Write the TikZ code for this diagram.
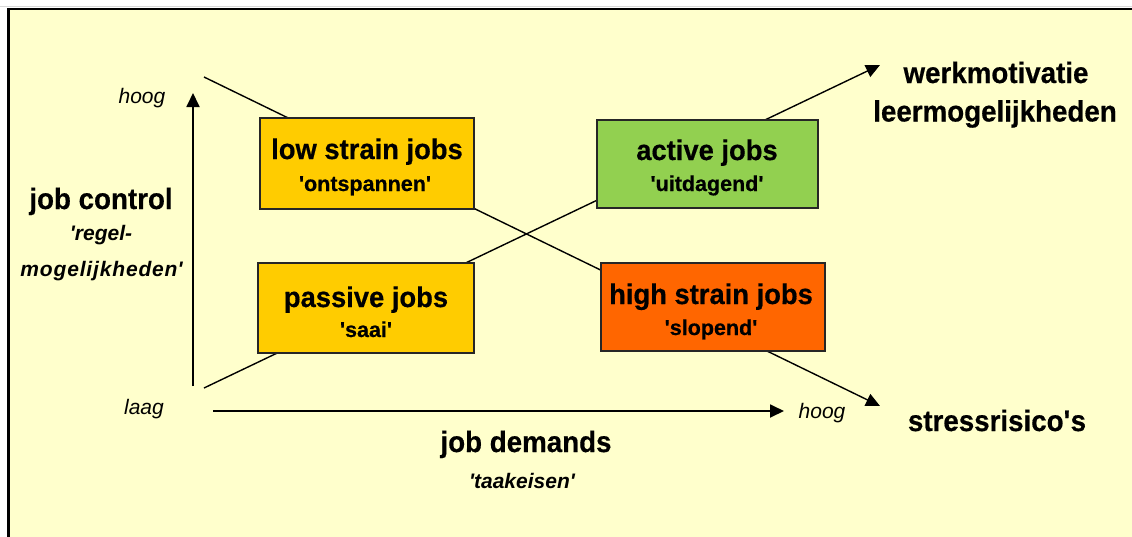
\documentclass[tikz,border=0pt]{standalone}
\usepackage{fontspec}
\setmainfont{Liberation Sans}[BoldFeatures={FakeBold=0.5}]
\newfontfamily\tallsans{Liberation Sans}[FakeStretch=0.94, BoldFeatures={FakeBold=0.5}]
\newfontfamily\boxsans{Liberation Sans}[FakeStretch=0.96, BoldFeatures={FakeBold=0.5}]
\usetikzlibrary{arrows.meta}

\definecolor{paper}{HTML}{FFFFCC}
\definecolor{calmfill}{HTML}{FFCC00}
\definecolor{activefill}{HTML}{92D050}
\definecolor{strainfill}{HTML}{FF6600}

\newcommand\sq{\textquotesingle}

\tikzset{
  jobbox/.style={draw=black!85, line width=1.4pt, inner sep=0pt, minimum width=#1},
  jobbox/.default=214pt,
  title/.style={anchor=base, inner sep=0pt, font=\boxsans\fontsize{28.5}{33}\selectfont\bfseries},
  subtitle/.style={anchor=base, inner sep=0pt, font=\fontsize{21.5}{25}\selectfont\bfseries},
  biglabel/.style={anchor=base, inner sep=0pt, font=\tallsans\fontsize{29.5}{34}\selectfont\bfseries},
  gloss/.style={anchor=base, inner sep=0pt, font=\fontsize{21}{25}\selectfont\bfseries\itshape},
  widegloss/.style={anchor=base, inner sep=0pt, font=\fontsize{21}{25}\selectfont\bfseries\itshape\addfontfeatures{LetterSpace=4}},
  level/.style={anchor=base, inner sep=0pt, font=\fontsize{21}{25}\selectfont\itshape},
  diagonal/.style={draw=black, line width=1.4pt},
  axisline/.style={draw=black, line width=1.8pt},
  tip/.style={-{Triangle[length=14pt,width=13pt]}}
}

\begin{document}
\begin{tikzpicture}[x=1pt,y=-1pt]
\useasboundingbox (0,0) rectangle (1132,536);
\fill[white] (0,0) rectangle (1132,536);
\draw[black!15, line width=1pt] (0,6.5) -- (1132,6.5);
\draw[fill=paper, line width=2.6pt] (8.5,9) rectangle (1160,570);

% end points of the two diagonals and the axes
\coordinate (ctlHigh) at (204,77);
\coordinate (riskTip) at (880,406);
\coordinate (ctlLow) at (204,388);
\coordinate (motTip) at (880,65);
\coordinate (yFoot) at (193,386);
\coordinate (yTip) at (193,93);
\coordinate (xFoot) at (213,411);
\coordinate (xTip) at (784,411);

% diagonals run behind the four quadrant boxes
\draw[diagonal, tip] (ctlHigh) -- (riskTip);
\draw[diagonal, tip] (ctlLow) -- (motTip);

% axes
\draw[axisline, tip] (yFoot) -- (yTip);
\draw[axisline, tip] (xFoot) -- (xTip);

% quadrant boxes
\node[jobbox=214pt, minimum height=91pt, fill=calmfill] (lowstrain) at (367,163.5) {};
\node[jobbox=216pt, minimum height=90pt, fill=calmfill] (passive) at (366,308) {};
\node[jobbox=221pt, minimum height=88pt, fill=activefill] (active) at (707.5,164) {};
\node[jobbox=224pt, minimum height=88pt, fill=strainfill] (highstrain) at (713,307) {};

\node[title] (lowT) at (367,159) {low strain jobs};
\node[subtitle] (lowS) at (365,191) {\sq ontspannen\sq};
\node[title] (pasT) at (366,307) {passive jobs};
\node[subtitle] (pasS) at (366,337) {\sq saai\sq};
\node[title] (actT) at (707,160) {active jobs};
\node[subtitle] (actS) at (707,191) {\sq uitdagend\sq};
\node[title] (hiT) at (711,304) {high strain jobs};
\node[subtitle] (hiS) at (711,335) {\sq slopend\sq};

% outcomes
\node[biglabel] (motiv) at (996,83) {werkmotivatie};
\node[biglabel] (learn) at (995,121.5) {leermogelijkheden};
\node[biglabel] (stress) at (997,431) {stressrisico\sq s};

% axis titles
\node[biglabel] (control) at (101,209) {job control};
\node[gloss] (controlA) at (101,240.5) {\sq regel-};
\node[widegloss] (controlB) at (101.5,276.5) {mogelijkheden\sq};
\node[biglabel] (demands) at (526,452) {job demands};
\node[gloss] (demandsA) at (522,488) {\sq taakeisen\sq};

% axis levels
\node[level] (yHigh) at (142,103) {hoog};
\node[level] (yLow) at (144,414) {laag};
\node[level] (xHigh) at (822,418) {hoog};
\end{tikzpicture}
\end{document}
